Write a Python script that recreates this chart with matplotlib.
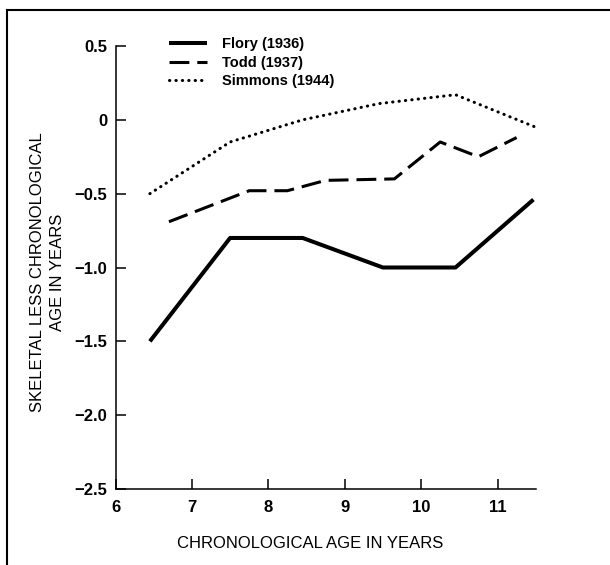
import matplotlib
matplotlib.use("Agg")
import matplotlib.pyplot as plt
from matplotlib.lines import Line2D

plt.rcParams["font.family"] = ["Liberation Sans", "DejaVu Sans"]

# Skeletal age minus chronological age, by study
flory_age = [6.45, 7.5, 8.45, 9.5, 10.45, 11.47]
flory_diff = [-1.5, -0.8, -0.8, -1.0, -1.0, -0.54]

todd_age = [6.7, 7.75, 8.25, 8.75, 9.65, 10.25, 10.75, 11.25]
todd_diff = [-0.69, -0.48, -0.48, -0.41, -0.40, -0.15, -0.25, -0.12]

simmons_age = [6.45, 7.5, 8.45, 9.45, 10.45, 11.5]
simmons_diff = [-0.5, -0.15, 0.0, 0.11, 0.17, -0.05]

x_ticks = [6, 7, 8, 9, 10, 11]
y_ticks = [0.5, 0, -0.5, -1.0, -1.5, -2.0, -2.5]
y_tick_labels = ["0.5", "0", "\u22120.5", "\u22121.0", "\u22121.5", "\u22122.0", "\u22122.5"]

fig = plt.figure(figsize=(6.1, 5.65), dpi=100)
ax = fig.add_axes([115.5 / 610, 1 - 489 / 565, 420.2 / 610, 443 / 565])

ax.plot(flory_age, flory_diff, color="black", lw=2.9,
        solid_capstyle="butt", label="Flory (1936)")
ax.plot(todd_age, todd_diff, color="black", lw=2.2,
        linestyle=(0, (6.5, 2.6)), label="Todd (1937)")
ax.plot(simmons_age, simmons_diff, color="black", lw=2.2,
        linestyle=(0, (0.1, 2.0)), dash_capstyle="round",
        label="Simmons (1944)")

ax.set_xlim(6, 11.5)
ax.set_ylim(-2.5, 0.5)
ax.set_xticks(x_ticks)
ax.set_yticks(y_ticks)
ax.set_yticklabels(y_tick_labels)
for lbl in ax.get_xticklabels() + ax.get_yticklabels():
    lbl.set_fontweight("bold")

for side in ["top", "right"]:
    ax.spines[side].set_visible(False)
for side in ["left", "bottom"]:
    ax.spines[side].set_linewidth(1.1)

ax.tick_params(direction="in", length=7, width=1.1, labelsize=12,
               colors="black")
ax.tick_params(axis="x", pad=8)
ax.tick_params(axis="y", pad=6)

ax.set_xlabel("CHRONOLOGICAL AGE IN YEARS", fontsize=12)
ax.xaxis.set_label_coords(0.463, -0.105)
ax.set_ylabel("SKELETAL LESS CHRONOLOGICAL\nAGE IN YEARS", fontsize=12,
              linespacing=1.45)
ax.yaxis.set_label_coords(-0.12, 0.49)

ax.legend(loc="upper left", bbox_to_anchor=(169 / 610, 1 - 37 / 565),
          bbox_transform=fig.transFigure, frameon=False,
          prop={"size": 10.5, "weight": "bold"},
          handlelength=2.6, handletextpad=1.0, labelspacing=0.32,
          borderpad=0, borderaxespad=0)

# Page frame: top and left edges
fig.add_artist(Line2D([7 / 610, 1], [1 - 10 / 565, 1 - 10 / 565],
                      transform=fig.transFigure, color="black", lw=1.5))
fig.add_artist(Line2D([7 / 610, 7 / 610], [0, 1 - 10 / 565],
                      transform=fig.transFigure, color="black", lw=1.5))

fig.savefig("out.png", dpi=100)
